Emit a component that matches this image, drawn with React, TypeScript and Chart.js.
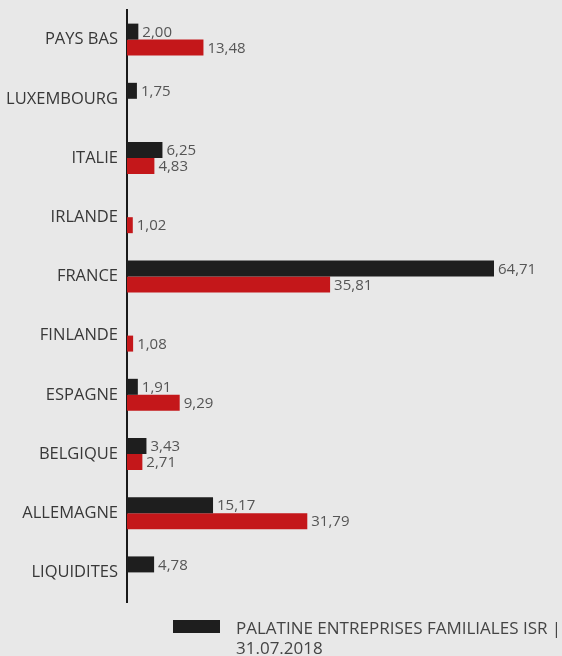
import React, { useEffect, useRef } from "react";
import { Chart, registerables } from "chart.js";

Chart.register(...registerables);

const categories = [
  "PAYS BAS",
  "LUXEMBOURG",
  "ITALIE",
  "IRLANDE",
  "FRANCE",
  "FINLANDE",
  "ESPAGNE",
  "BELGIQUE",
  "ALLEMAGNE",
  "LIQUIDITES",
];
const fundValues: (number | null)[] = [2.0, 1.75, 6.25, null, 64.71, null, 1.91, 3.43, 15.17, 4.78];
const benchmarkValues: (number | null)[] = [13.48, null, 4.83, 1.02, 35.81, 1.08, 9.29, 2.71, 31.79, null];
const fundLabel = "PALATINE ENTREPRISES FAMILIALES ISR | 31.07.2018";
const legendLines = ["PALATINE ENTREPRISES FAMILIALES ISR |", "31.07.2018"];
const benchmarkLabel = "INDICE DE REFERENCE";

const FONT = "'Open Sans', 'DejaVu Sans', sans-serif";

const valueLabels = {
  id: "valueLabels",
  afterDatasetsDraw(chart: any) {
    const ctx = chart.ctx;
    ctx.save();
    ctx.font = `15px ${FONT}`;
    ctx.fillStyle = "#555555";
    ctx.textAlign = "left";
    ctx.textBaseline = "middle";
    chart.data.datasets.forEach((ds: any, i: number) => {
      const meta = chart.getDatasetMeta(i);
      meta.data.forEach((el: any, j: number) => {
        const v = ds.data[j];
        if (v === null || v === undefined) return;
        ctx.fillText(v.toFixed(2).replace(".", ","), el.x + 4, el.y + 1);
      });
    });
    ctx.restore();
  },
};

export default function App() {
  const ref = useRef<HTMLCanvasElement | null>(null);
  useEffect(() => {
    if (!ref.current) return;
    const chart = new Chart(ref.current, {
      type: "bar",
      data: {
        labels: categories,
        datasets: [
          {
            label: fundLabel,
            data: fundValues,
            backgroundColor: "#1e1e1e",
            categoryPercentage: 0.54,
            barPercentage: 1.0,
          },
          {
            label: benchmarkLabel,
            data: benchmarkValues,
            backgroundColor: "#c4171a",
            categoryPercentage: 0.54,
            barPercentage: 1.0,
          },
        ],
      },
      options: {
        indexAxis: "y",
        animation: false,
        responsive: false,
        devicePixelRatio: 1,
        layout: { padding: { top: 10, right: 38, bottom: 54, left: 0 } },
        plugins: {
          legend: { display: false },
          tooltip: { enabled: false },
        },
        scales: {
          x: { display: false, min: 0, max: 70 },
          y: {
            afterFit: (s: any) => {
              s.width = 127;
              s.paddingTop = 0;
              s.paddingBottom = 0;
            },
            grid: { display: false, drawTicks: false },
            border: { display: true, color: "#1a1a1a", width: 2 },
            ticks: {
              padding: 9,
              color: "#383838",
              font: { family: FONT, size: 16.5 },
            },
          },
        },
      },
      plugins: [valueLabels],
    });
    return () => chart.destroy();
  }, []);

  return (
    <div
      style={{
        position: "fixed",
        left: 0,
        top: 0,
        width: 562,
        height: 656,
        background: "#e8e8e8",
        overflow: "hidden",
      }}
    >
      <canvas ref={ref} width={562} height={656} style={{ position: "absolute", left: 0, top: 0 }} />
      <div
        style={{
          position: "absolute",
          left: 173,
          top: 620,
          width: 47,
          height: 13,
          background: "#1e1e1e",
        }}
      />
      <div
        style={{
          position: "absolute",
          left: 236,
          top: 618,
          fontFamily: FONT,
          fontSize: 17,
          lineHeight: "20px",
          color: "#444444",
          whiteSpace: "nowrap",
        }}
      >
        {legendLines.map((l) => (
          <div key={l}>{l}</div>
        ))}
      </div>
    </div>
  );
}
